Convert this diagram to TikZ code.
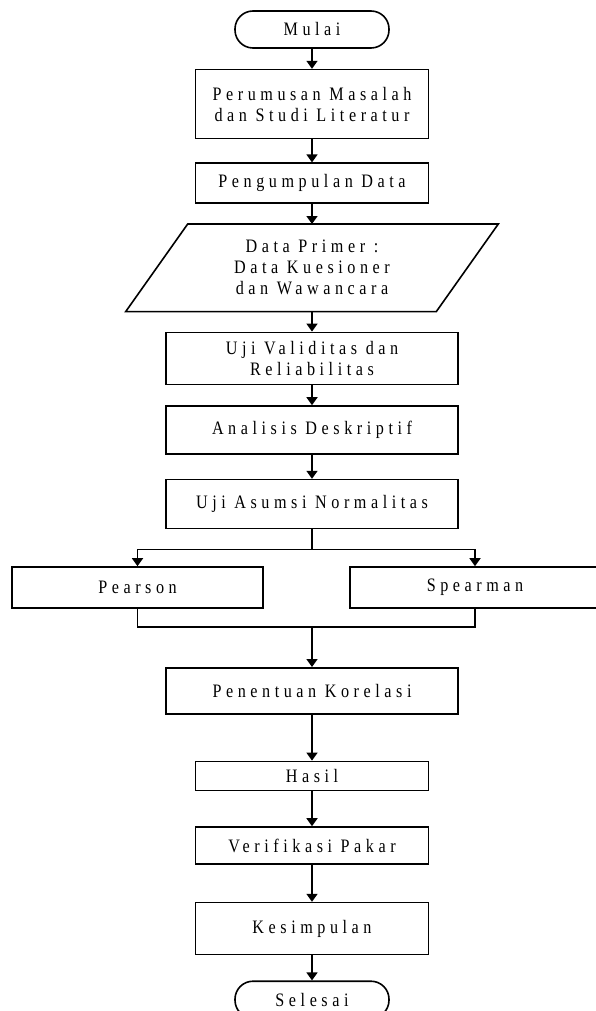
\documentclass[tikz,border=0pt]{standalone}
\usepackage{fontspec}
\newfontfamily\flowfont[LetterSpace=24,FakeStretch=0.85]{Liberation Serif}
\usetikzlibrary{arrows.meta, positioning}

\begin{document}
\begin{tikzpicture}[x=1pt, y=-1pt,
    flowbox/.style={
      rectangle, draw, line width=1.6pt, minimum width=233pt,
      font=\flowfont\fontsize{19}{21}\selectfont, align=center, inner sep=0pt
    },
    termbox/.style={flowbox, rounded corners=18pt, minimum width=154pt, minimum height=37pt},
    arr/.style={-{Triangle[length=8pt, width=11pt]}, line width=1.6pt},
    conn/.style={line width=1.6pt},
  ]

  \useasboundingbox (0,0) rectangle (596,1011);

  \node[termbox] (mulai) at (312,29.5) {Mulai};
  \node[flowbox, minimum height=69pt, below=20pt of mulai] (rumusan) {Perumusan Masalah\\dan Studi Literatur};
  \node[flowbox, minimum height=40pt, below=23pt of rumusan] (kumpul) {Pengumpulan Data};
  \node[flowbox, draw=none, minimum width=309pt, minimum height=86pt, below=20pt of kumpul] (primer) {Data Primer :\\Data Kuesioner\\dan Wawancara};
  \draw[conn] ([xshift=31pt]primer.north west) -- ([xshift=31pt]primer.north east)
    -- ([xshift=-31pt]primer.south east) -- ([xshift=-31pt]primer.south west) -- cycle;
  \node[flowbox, minimum width=292pt, minimum height=52pt, below=20pt of primer] (validitas) {Uji Validitas dan\\Reliabilitas};
  \node[flowbox, minimum width=292pt, minimum height=48pt, below=20pt of validitas] (deskriptif) {Analisis Deskriptif};
  \node[flowbox, minimum width=292pt, minimum height=49pt, below=24pt of deskriptif] (normalitas) {Uji Asumsi Normalitas};
  \coordinate[below=20pt of normalitas] (cabang);
  \node[flowbox, minimum width=251pt, minimum height=41pt] (pearson) at (137.5,587.5) {Pearson};
  \node[flowbox, minimum width=250pt, minimum height=41pt] (spearman) at (475,587.5) {Spearman};
  \coordinate (gabung) at (312,627);
  \node[flowbox, minimum width=292pt, minimum height=46pt, below=40pt of gabung] (korelasi) {Penentuan Korelasi};
  \node[flowbox, minimum height=29pt, below=46pt of korelasi] (hasil) {Hasil};
  \node[flowbox, minimum height=37pt, below=35pt of hasil] (verifikasi) {Verifikasi Pakar};
  \node[flowbox, minimum height=52pt, below=37pt of verifikasi] (simpulan) {Kesimpulan};
  \node[termbox, below=25pt of simpulan] (selesai) {Selesai};

  \draw[arr] (mulai) -- (rumusan);
  \draw[arr] (rumusan) -- (kumpul);
  \draw[arr] (kumpul) -- (primer);
  \draw[arr] (primer) -- (validitas);
  \draw[arr] (validitas) -- (deskriptif);
  \draw[arr] (deskriptif) -- (normalitas);
  \draw[conn] (normalitas) -- (cabang);
  \draw[arr] (cabang) -| (pearson.north);
  \draw[arr] (cabang) -| (spearman.north);
  \draw[conn] (pearson.south) |- (gabung) -| (spearman.south);
  \draw[arr] (gabung) -- (korelasi);
  \draw[arr] (korelasi) -- (hasil);
  \draw[arr] (hasil) -- (verifikasi);
  \draw[arr] (verifikasi) -- (simpulan);
  \draw[arr] (simpulan) -- (selesai);
\end{tikzpicture}
\end{document}
